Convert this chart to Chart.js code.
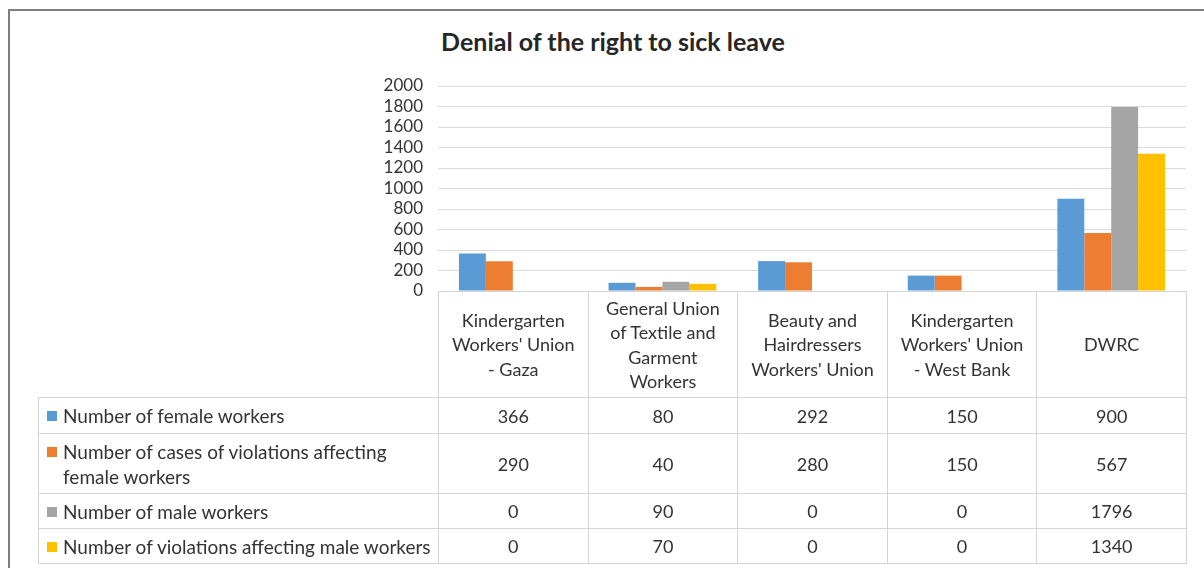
<!DOCTYPE html>
<html lang="en">
<head>
<meta charset="UTF-8">
<title>Denial of the right to sick leave</title>
<script src="https://cdn.jsdelivr.net/npm/chart.js"></script>
<style>
* { margin: 0; padding: 0; box-sizing: border-box; }
body {
    width: 1204px; height: 568px; background: #fff; position: relative; overflow: hidden;
    font-family: 'Lato', 'Open Sans', sans-serif; color: #333;
}
.frame {
    position: absolute; left: 8px; top: 9px; right: 0; bottom: 0;
    border-top: 2px solid #7f7f7f; border-left: 2px solid #7f7f7f;
}
h1 {
    position: absolute; left: 0; width: 1226px; top: 26px; text-align: center;
    font-size: 25px; font-weight: bold; color: #262626;
}
#wrap { position: absolute; left: 0; top: 0; width: 1204px; height: 568px; }
#dataTable {
    position: absolute; top: 291px; border-collapse: collapse; table-layout: fixed;
    color: #333;
}
#dataTable td, #dataTable th { border: 1px solid #d4d4d4; font-weight: normal; }
#dataTable th { text-align: center; vertical-align: middle; line-height: 24.5px; font-size: 18px; }
#dataTable th.blank { border: none; }
#dataTable td.val { text-align: center; vertical-align: middle; font-size: 18px; }
#dataTable td.name { padding-left: 8px; vertical-align: middle; line-height: 25px; font-size: 19px; }
.name div { display: flex; align-items: flex-start; }
.name i { flex: none; width: 10px; height: 10px; margin: 8px 6px 0 0; }
</style>
</head>
<body>
<div class="frame"></div>
<h1>Denial of the right to sick leave</h1>
<div id="wrap"><canvas id="sickLeave" width="1204" height="568"></canvas></div>
<table id="dataTable"></table>

<script>
// categories (split into the lines shown in the table header)
const categories = [
    ['Kindergarten', "Workers' Union", '- Gaza'],
    ['General Union', 'of Textile and', 'Garment', 'Workers'],
    ['Beauty and', 'Hairdressers', "Workers' Union"],
    ['Kindergarten', "Workers' Union", '- West Bank'],
    ['DWRC']
];
const seriesNames = [
    'Number of female workers',
    'Number of cases of violations affecting female workers',
    'Number of male workers',
    'Number of violations affecting male workers'
];
const femaleWorkers    = [366, 80, 292, 150, 900];
const femaleViolations = [290, 40, 280, 150, 567];
const maleWorkers      = [0, 90, 0, 0, 1796];
const maleViolations   = [0, 70, 0, 0, 1340];
const seriesColors = ['#5B9BD5', '#ED7D31', '#A5A5A5', '#FFC000'];
const yTicks = [0, 200, 400, 600, 800, 1000, 1200, 1400, 1600, 1800, 2000];

const seriesData = [femaleWorkers, femaleViolations, maleWorkers, maleViolations];

const chart = new Chart(document.getElementById('sickLeave'), {
    type: 'bar',
    data: {
        labels: categories,
        datasets: seriesNames.map((name, i) => ({
            label: name,
            data: seriesData[i],
            backgroundColor: seriesColors[i],
            borderWidth: 0,
            categoryPercentage: 0.72,
            barPercentage: 1
        }))
    },
    options: {
        responsive: false,
        animation: false,
        layout: { padding: { left: 0, top: 86, right: 18, bottom: 277 } },
        plugins: { legend: { display: false }, tooltip: { enabled: false } },
        scales: {
            x: { display: false },
            y: {
                min: yTicks[0],
                max: yTicks[yTicks.length - 1],
                afterBuildTicks: s => { s.ticks = yTicks.map(v => ({ value: v })); },
                afterFit: s => { s.width = 438; },
                border: { display: false },
                grid: { color: '#d9d9d9', lineWidth: 1, drawTicks: false },
                ticks: {
                    autoSkip: false,
                    padding: 15,
                    color: '#333',
                    font: { family: 'Lato', size: 17 },
                    callback: v => String(v)
                }
            }
        }
    }
});

// data table under the plot, columns lined up with the category slots
const area = chart.chartArea;
const colW = (area.right - area.left) / categories.length;
const labelW = 400;
const table = document.getElementById('dataTable');
table.style.left = (area.left - labelW) + 'px';
table.style.width = (labelW + colW * categories.length) + 'px';

let html = '<colgroup><col style="width:' + labelW + 'px">';
categories.forEach(() => { html += '<col style="width:' + colW + 'px">'; });
html += '</colgroup><tr style="height:106px"><th class="blank"></th>';
categories.forEach(c => { html += '<th>' + c.join('<br>') + '</th>'; });
html += '</tr>';
const rowHeights = [36, 60, 35, 35];
const nameLines = [
    [seriesNames[0]],
    ['Number of cases of violations affecting', 'female workers'],
    [seriesNames[2]],
    [seriesNames[3]]
];
seriesNames.forEach((name, i) => {
    html += '<tr style="height:' + rowHeights[i] + 'px"><td class="name"><div><i style="background:' +
        seriesColors[i] + '"></i><span>' + nameLines[i].join('<br>') + '</span></div></td>';
    seriesData[i].forEach(v => { html += '<td class="val">' + v + '</td>'; });
    html += '</tr>';
});
table.innerHTML = html;
</script>
</body>
</html>
